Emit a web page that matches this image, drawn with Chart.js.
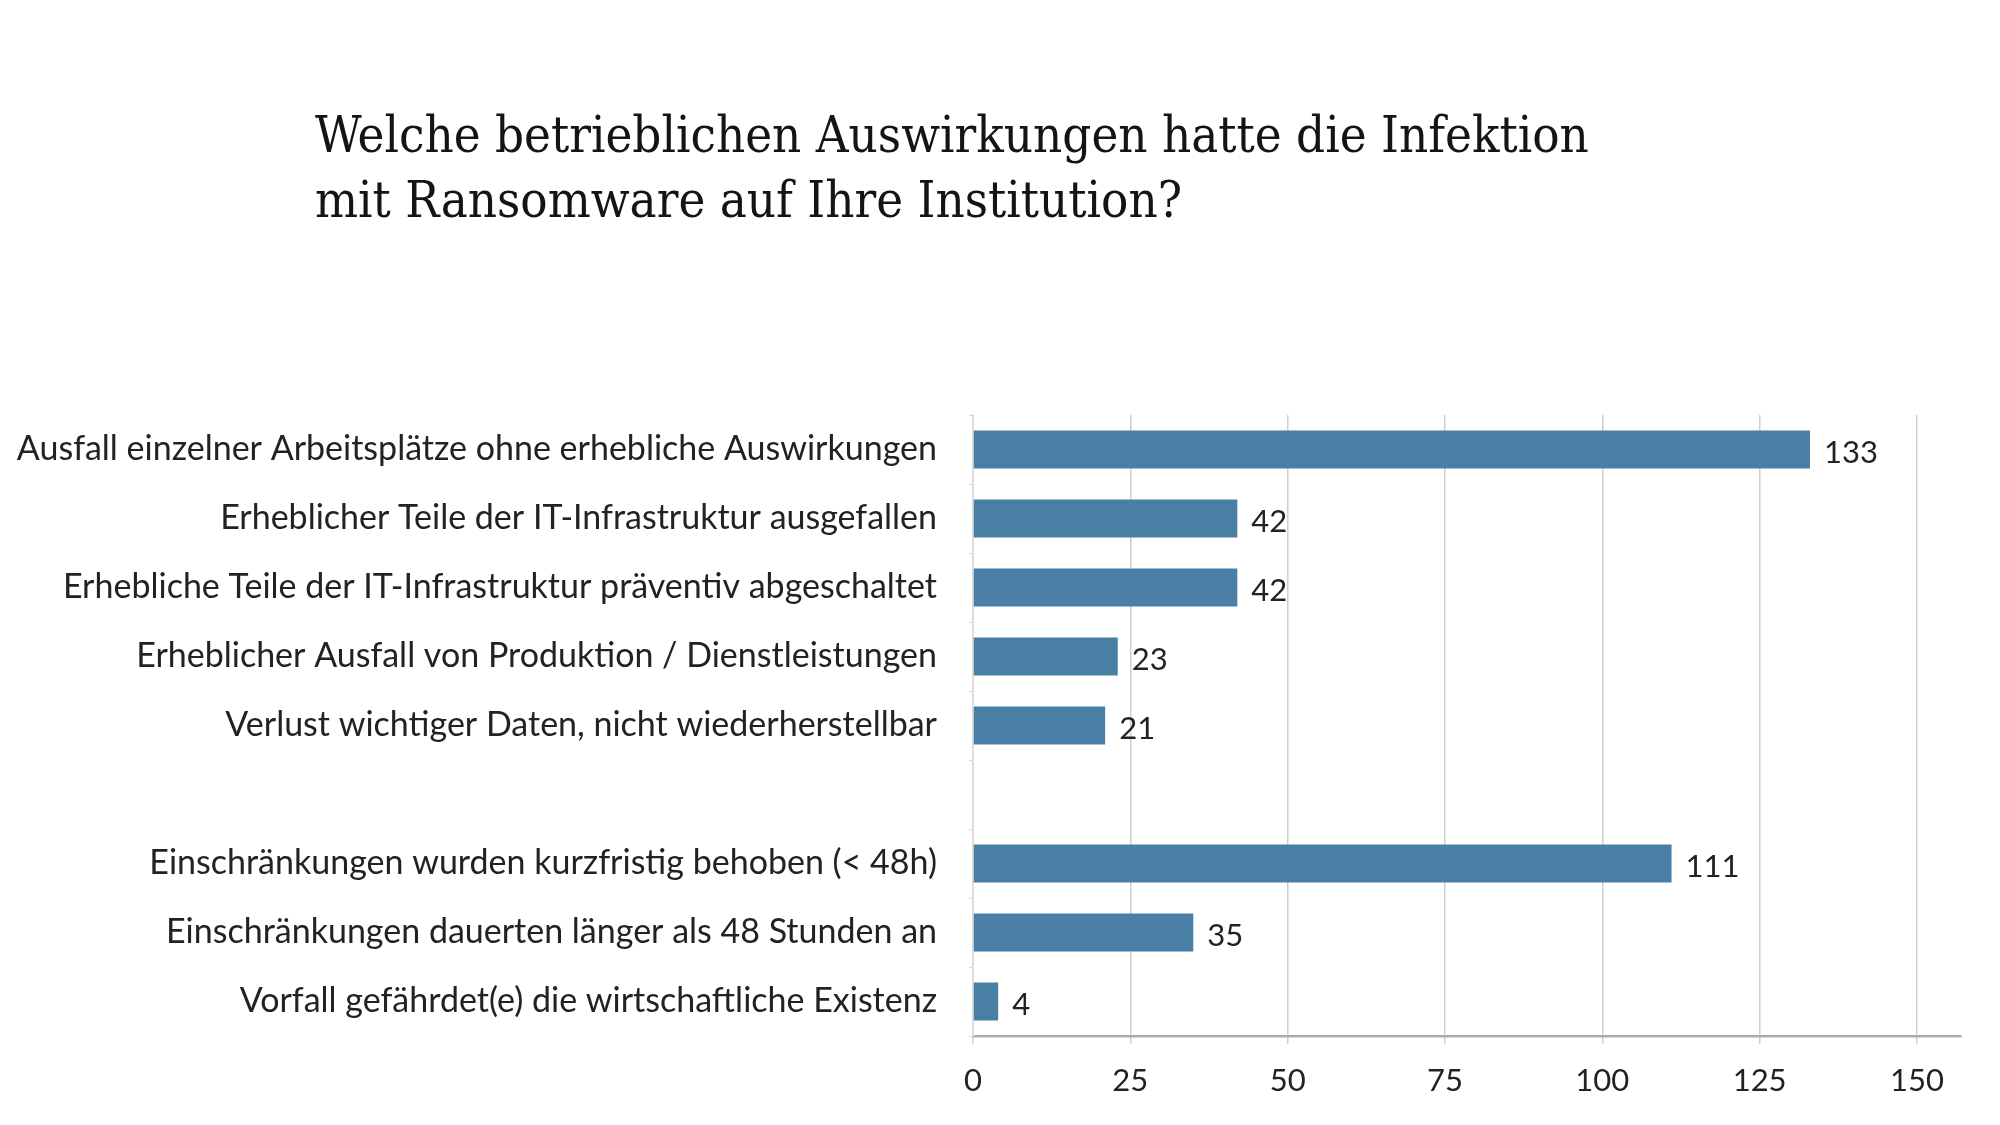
<!DOCTYPE html>
<html>
<head>
<meta charset="utf-8">
<script src="https://cdn.jsdelivr.net/npm/chart.js@4.4.1/dist/chart.umd.min.js"></script>
<style>
    html, body { margin: 0; padding: 0; background: #ffffff; }
    #rahmen { position: relative; width: 2000px; height: 1125px; }
    #titel {
        position: absolute; left: 315px; top: 102px;
        font-family: "DejaVu Serif Condensed", "DejaVu Serif", serif; font-size: 50.5px; line-height: 65px;
        color: #141414;
    }
    #grafico { position: absolute; left: 0; top: 0; }
</style>
</head>
<body>
<div id="rahmen">
    <canvas id="grafico" width="2000" height="1125"></canvas>
    <div id="titel">Welche betrieblichen Auswirkungen hatte die Infektion<br>mit Ransomware auf Ihre Institution?</div>
</div>
<script>
// Kategorien (leerer Eintrag = Abstand zwischen den zwei Gruppen)
var kategorien = [
    'Ausfall einzelner Arbeitsplätze ohne erhebliche Auswirkungen',
    'Erheblicher Teile der IT-Infrastruktur ausgefallen',
    'Erhebliche Teile der IT-Infrastruktur präventiv abgeschaltet',
    'Erheblicher Ausfall von Produktion / Dienstleistungen',
    'Verlust wichtiger Daten, nicht wiederherstellbar',
    '',
    'Einschränkungen wurden kurzfristig behoben (< 48h)',
    'Einschränkungen dauerten länger als 48 Stunden an',
    'Vorfall gefährdet(e) die wirtschaftliche Existenz'
];
var anzahl = [133, 42, 42, 23, 21, null, 111, 35, 4];
var achseTicks = [0, 25, 50, 75, 100, 125, 150];

var schrift = 'Lato';

// Werte rechts neben den Balken
var werteAnzeigen = {
    id: 'werteAnzeigen',
    afterDatasetsDraw: function (chart) {
        var ctx = chart.ctx;
        var meta = chart.getDatasetMeta(0);
        ctx.save();
        ctx.font = '31px ' + schrift;
        ctx.fillStyle = '#222222';
        ctx.textAlign = 'left';
        ctx.textBaseline = 'middle';
        meta.data.forEach(function (balken, i) {
            var wert = chart.data.datasets[0].data[i];
            if (wert === null) return;
            ctx.fillText(String(wert), balken.x + 14, balken.y + 3);
        });
        ctx.restore();
    }
};

var grafico = document.getElementById('grafico').getContext('2d');
var criarGrafico = new Chart(grafico, {
    type: 'bar',
    data: {
        labels: kategorien,
        datasets: [{
            data: anzahl,
            backgroundColor: '#4a7fa5',
            borderWidth: 0,
            barPercentage: 0.55,
            categoryPercentage: 1.0
        }]
    },
    options: {
        indexAxis: 'y',
        responsive: false,
        animation: false,
        layout: { padding: { top: 415, right: 39, left: 0, bottom: 0 } },
        plugins: {
            legend: { display: false },
            tooltip: { enabled: false }
        },
        scales: {
            x: {
                min: 0,
                max: 157,
                ticks: {
                    stepSize: 25,
                    font: { family: schrift, size: 31 },
                    color: '#222222',
                    padding: 18
                },
                afterBuildTicks: function (achse) {
                    achse.ticks = achseTicks.map(function (v) { return { value: v }; });
                },
                afterFit: function (achse) {
                    achse.height = 89;
                },
                grid: {
                    color: '#cfcfcf',
                    lineWidth: 1.5,
                    tickLength: 8
                },
                border: { color: '#ababab', width: 2.5 }
            },
            y: {
                ticks: {
                    font: { family: schrift, size: 34 },
                    color: '#222222',
                    padding: 32,
                    autoSkip: false
                },
                afterFit: function (achse) {
                    achse.width = 973;
                },
                grid: {
                    drawOnChartArea: false,
                    color: '#d6d6d6',
                    tickLength: 4
                },
                border: { color: '#dcdcdc', width: 1.5 }
            }
        }
    },
    plugins: [werteAnzeigen]
});
</script>
</body>
</html>
